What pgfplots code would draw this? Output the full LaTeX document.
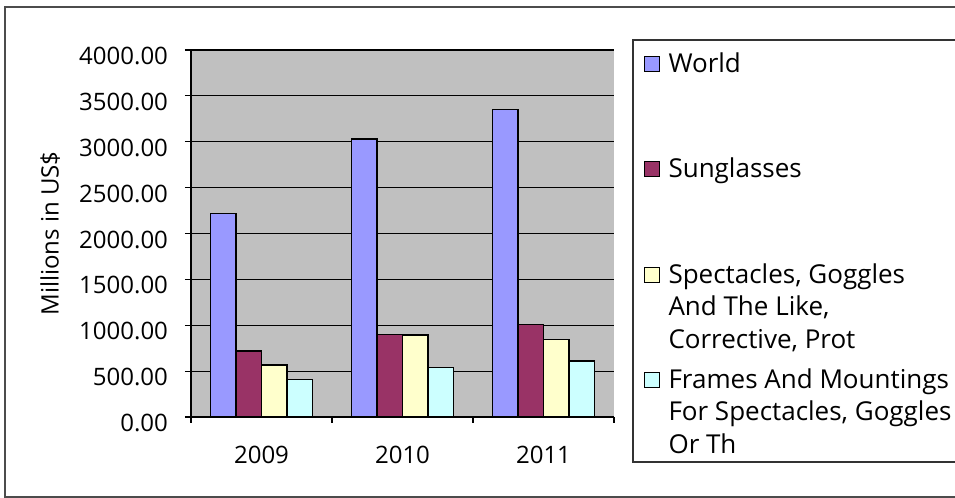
\documentclass[border=0pt]{standalone}
\usepackage{pgfplots}
\pgfplotsset{compat=1.18}
\usepackage{fontspec}
\setmainfont{Open Sans}
\definecolor{cWorld}{HTML}{9999FF}
\definecolor{cSun}{HTML}{993366}
\definecolor{cSpec}{HTML}{FFFFCC}
\definecolor{cFrame}{HTML}{CCFFFF}
\definecolor{plotbg}{HTML}{C0C0C0}
\begin{document}
\begin{tikzpicture}
\useasboundingbox (-95.5pt,-40.5pt) rectangle (382pt,208.5pt);
\draw[line width=1pt, black!70] (-93pt,-39.8pt) rectangle (420pt,205pt);
\begin{axis}[
  at={(0,0)}, anchor=south west,
  scale only axis, width=211.5pt, height=183.5pt,
  ybar=0pt, bar width=12.75pt,
  xmin=-0.5, xmax=2.5, ymin=0, ymax=4000,
  xtick={0,1,2}, xticklabels={2009,2010,2011},
  minor xtick={-0.5,0.5,1.5,2.5},
  ytick={0,500,...,4000},
  axis x line*=bottom, axis y line*=left,
  axis line style={black, line width=0.6pt},
  axis background/.style={fill=plotbg},
  ymajorgrids, grid style={black, line width=0.6pt},
  tick align=outside,
  major tick length=3pt, minor tick length=3pt,
  major x tick style={draw=none},
  minor x tick style={draw=black, line width=0.6pt},
  major y tick style={draw=black, line width=0.6pt},
  /pgf/number format/assume math mode=true,
  yticklabel style={/pgf/number format/.cd, fixed, fixed zerofill, precision=2, 1000 sep={}, /tikz/.cd, font=\fontsize{12}{14}\selectfont, xshift=-5pt, yshift=-3pt},
  xticklabel style={font=\fontsize{12}{14}\selectfont, yshift=-8pt},
  ylabel={Millions in US\$},
  ylabel style={at={(axis description cs:-0.333,0.5)}, anchor=center, font=\fontsize{12}{14}\selectfont},
  legend image code/.code={\draw[#1, line width=0.5pt] (0pt,0.5pt) rectangle (7.5pt,8pt); \path (0pt,-40.5pt);},
  legend style={at={(axis description cs:1.045,1.0245)}, anchor=north west,
    draw=none, fill=none, inner xsep=5pt, inner ysep=3.6pt,
    row sep=0pt, column sep=2.5pt,
    cells={anchor=base west, inner sep=0pt},
    font=\fontsize{13}{16.25}\selectfont},
]
\addplot[fill=cWorld, draw=black, line width=0.6pt] coordinates {(0,2220) (1,3030) (2,3355)};
\addlegendentry{\parbox[t]{165pt}{World}}
\addplot[fill=cSun, draw=black, line width=0.6pt] coordinates {(0,720) (1,900) (2,1005)};
\addlegendentry{\parbox[t]{165pt}{Sunglasses}}
\addplot[fill=cSpec, draw=black, line width=0.6pt] coordinates {(0,567) (1,893) (2,847)};
\addlegendentry{\parbox[t]{165pt}{Spectacles, Goggles\\And The Like,\\Corrective, Prot}}
\addplot[fill=cFrame, draw=black, line width=0.6pt,
  legend image code/.code={\draw[fill=cFrame, draw=black, line width=0.5pt] (0pt,0.5pt) rectangle (7.5pt,8pt); \path (0pt,-33.5pt);}] coordinates {(0,411) (1,541) (2,610)};
\addlegendentry{\parbox[t]{165pt}{Frames And Mountings\\For Spectacles, Goggles\\Or Th}}
\end{axis}
\draw[black!80, line width=0.6pt] (420pt,188.5pt) -- (221pt,188.5pt) -- (221pt,-22.5pt) -- (420pt,-22.5pt);
\end{tikzpicture}
\end{document}
